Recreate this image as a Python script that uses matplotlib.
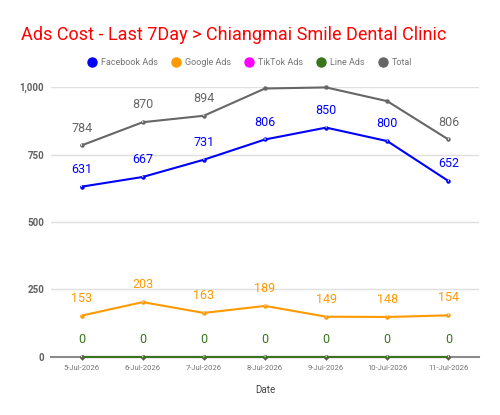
import matplotlib
matplotlib.use('Agg')
import matplotlib.pyplot as plt
import numpy as np

plt.rcParams['font.family'] = ['Roboto', 'DejaVu Sans']

dates = ['5-Jul-2026', '6-Jul-2026', '7-Jul-2026', '8-Jul-2026',
         '9-Jul-2026', '10-Jul-2026', '11-Jul-2026']
facebook = [631, 667, 731, 806, 850, 800, 652]
google = [153, 203, 163, 189, 149, 148, 154]
tiktok = [0, 0, 0, 0, 0, 0, 0]
line_ads = [0, 0, 0, 0, 0, 0, 0]
total = [784, 870, 894, 995, 999, 948, 806]
# total labels that the original chart actually shows
total_shown = [0, 1, 2, 6]

fig = plt.figure(figsize=(5, 4.15), dpi=100)
ax = fig.add_axes([0.102, 0.14, 0.856, 0.65])
x = np.arange(len(dates))

series = [
    ('Facebook Ads', facebook, '#0000ff', True),
    ('Google Ads', google, '#ff9900', True),
    ('TikTok Ads', tiktok, '#ff00ff', False),
    ('Line Ads', line_ads, '#38761d', True),
    ('Total', total, '#666666', None),
]

for name, vals, col, lab in series:
    ax.plot(x, vals, color=col, lw=1.5, marker='o', markersize=2.2,
            label=name, clip_on=False, zorder=3)
    if lab is False:
        continue
    idx = total_shown if lab is None else range(len(vals))
    for i in idx:
        ax.annotate(str(vals[i]), (x[i], vals[i]), xytext=(0, 12.5),
                    textcoords='offset points', ha='center', va='center',
                    fontsize=9, color=col,
                    arrowprops=dict(arrowstyle='-', color='#e6e6e6', lw=0.8,
                                    shrinkA=5, shrinkB=1))

ax.set_xlim(-0.5, 6.5)
ax.set_ylim(0, 1000)
ax.set_yticks([0, 250, 500, 750, 1000])
ax.set_yticklabels(['0', '250', '500', '750', '1,000'], fontweight='bold',
                   fontsize=7, color='#616161')
ax.set_xticks(x)
ax.set_xticklabels(dates, fontsize=5.5, color='#757575')
ax.tick_params(axis='y', length=0, pad=5)
ax.tick_params(axis='x', length=2, width=0.8, color='#444444', pad=4)
ax.grid(axis='y', color='#e0e0e0', lw=1)
ax.set_axisbelow(True)
for s in ['top', 'right', 'left']:
    ax.spines[s].set_visible(False)
ax.spines['bottom'].set_color('#8a8a8a')
ax.spines['bottom'].set_linewidth(1.5)
ax.set_xlabel('Date', fontsize=7, color='#444444', labelpad=10)

fig.text(0.042, 0.915, 'Ads Cost - Last 7Day > Chiangmai Smile Dental Clinic',
         fontsize=13, color='#ff0000', va='center')

handles = [plt.Line2D([], [], marker='o', ls='', color=c, markersize=6.5)
           for _, _, c, _ in series]
fig.legend(handles, [s[0] for s in series], loc='center', ncol=5,
           bbox_to_anchor=(0.5, 0.85), frameon=False, fontsize=6.5,
           labelcolor='#757575', handletextpad=0.5, columnspacing=1.5,
           handlelength=1.0)

fig.savefig('out.png', dpi=100)
